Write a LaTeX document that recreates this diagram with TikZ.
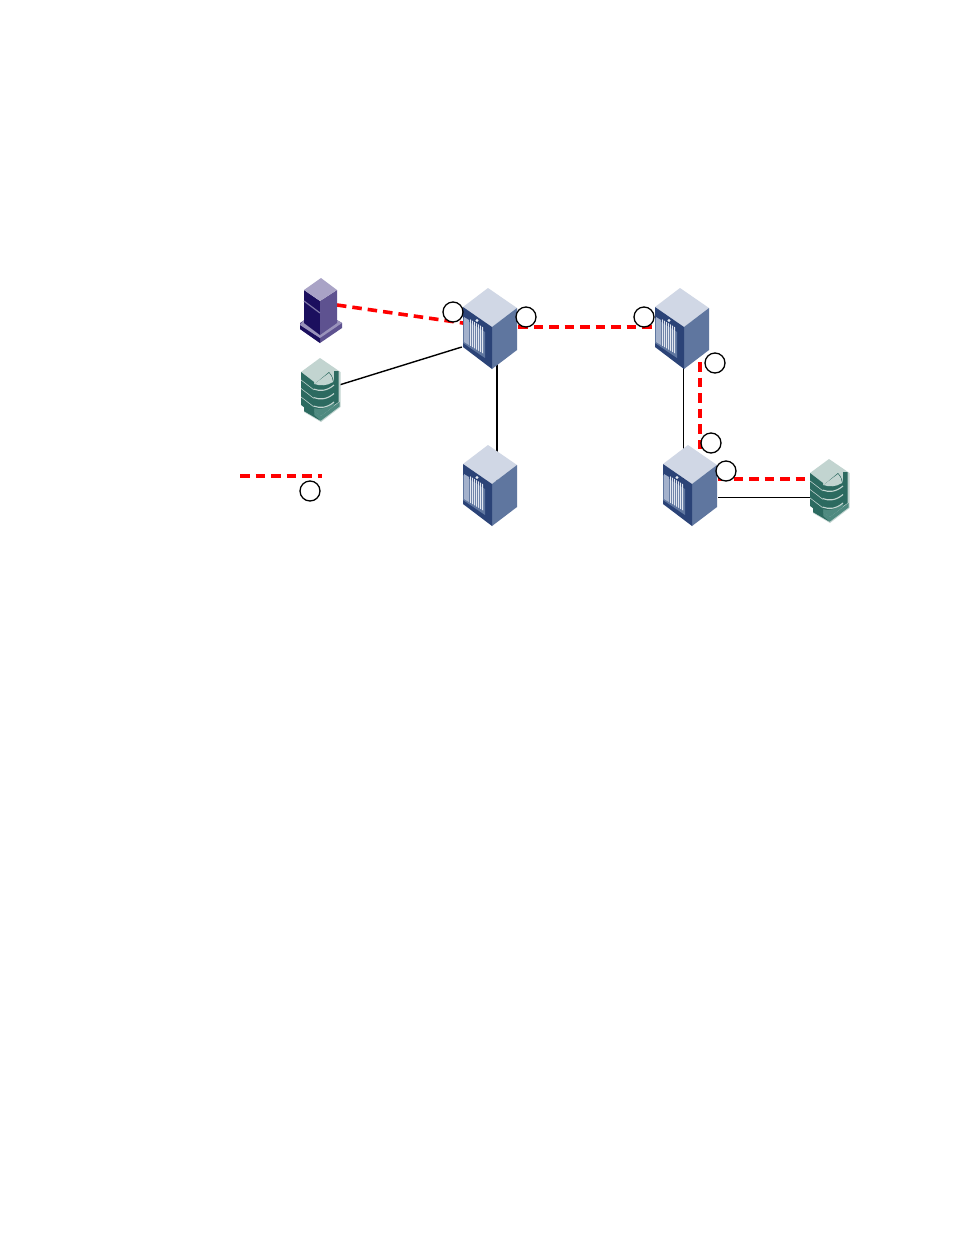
\documentclass[tikz,border=0pt]{standalone}
\definecolor{swtop}{HTML}{D0D7E5}
\definecolor{swright}{HTML}{5F769F}
\definecolor{swleft}{HTML}{2B4377}
\definecolor{swpanel}{HTML}{A3B1CC}
\definecolor{swbar}{HTML}{E3E8F1}
\definecolor{hosttop}{HTML}{A9A3C6}
\definecolor{hostleft}{HTML}{1B0F5E}
\definecolor{hostright}{HTML}{5E5290}
\definecolor{disktop}{HTML}{C2D4D0}
\definecolor{diskdark}{HTML}{2C6A60}
\definecolor{diskmid}{HTML}{4F8A80}
\tikzset{
  swbox/.style={minimum width=56pt,minimum height=80pt,inner sep=0pt},
  hostbox/.style={minimum width=42pt,minimum height=64pt,inner sep=0pt},
  diskbox/.style={minimum width=40pt,minimum height=64pt,inner sep=0pt},
  tagcircle/.style={draw,circle,fill=white,line width=1.3pt,minimum size=20pt,inner sep=0pt},
  redlink/.style={red,line width=3.6pt,dash pattern=on 9.5pt off 6pt},
  blacklink/.style={black,line width=1.4pt},
  switchicon/.pic={
    \fill[swtop] (-2,-41) -- (27,-21) -- (2,-2) -- (-27,-22) -- cycle;
    \fill[swright] (27,-21) -- (27,21) -- (2,40) -- (2,-2) -- cycle;
    \fill[swleft] (-27,-22) -- (2,-2) -- (2,40) -- (-27,18) -- cycle;
    \fill[swright] (-27,-11) -- (-5,3) -- (-5,29) -- (-27,14) -- cycle;
    \fill[swpanel] (-26,-12) -- (-21,-9) -- (-21,16) -- (-26,13) -- cycle;
    \fill[swleft] (-2,2) -- (1,4) -- (1,30) -- (-2,28) -- cycle;
    \foreach \barx in {-20,-18,-16,-14,-12,-10,-8}
      \fill[swbar] (\barx,{-11+(\barx+22)*0.62}) -- ++(1.2,0.7) -- ({\barx+1.2},{13+(\barx+27.2)*0.6}) -- (\barx,{13+(\barx+26)*0.6}) -- cycle;
    \fill[swbar] (-13,-8.5) circle (1.6);
  },
  hosticon/.pic={
    \fill[hostright] (-21,12) -- (-1,-1) -- (21,12) -- (21,17) -- (-1,32) -- (-21,18) -- cycle;
    \fill[hostleft] (-21,14) -- (-1,27) -- (-1,32) -- (-21,18) -- cycle;
    \fill[hosttop!80!hostright] (-21,14) -- (-17,9) -- (16,9) -- (21,12) -- (-1,27) -- cycle;
    \fill[hostleft] (-17,-21) -- (-1,-10) -- (-1,24) -- (-17,12) -- cycle;
    \fill[hostright] (16,-21) -- (16,12) -- (-1,24) -- (-1,-10) -- cycle;
    \fill[hosttop] (0,-33) -- (16,-21) -- (-1,-10) -- (-17,-21) -- cycle;
    \draw[hosttop!70!hostleft,line width=1.2pt] (-17,-10) -- (-1,2);
  },
  diskicon/.pic={
    \fill[disktop] (-20,-18) -- (-1,-32) -- (19.5,-18) -- (19.5,17) -- (0,32) -- (-17,22) -- (-17,13) -- (-20,11) -- cycle;
    \fill[diskmid] (-17,14) -- (0,26) -- (18.5,12) -- (18.5,16.5) -- (0,30.5) -- (-17,21) -- cycle;
    \fill[diskdark] (-17,14) -- (-7,20) -- (-7,25) -- (0,31) -- (-17,21) -- cycle;
    \fill[diskdark] (13,-19) -- (17.5,-19) -- (17.5,12) -- (13,15) -- cycle;
    \fill[diskmid] (-7.5,14) -- (13,10) -- (13,16) -- (0,26) -- (-7.5,21) -- cycle;
    \foreach \bandy in {-18,-9.5,-1,7.5}
      \fill[diskdark] (-20,\bandy) -- (-7,{\bandy+10}) -- (-7,{\bandy+17.4}) -- (-20,{\bandy+7.4}) -- cycle;
    \fill[diskdark] (-7.5,-5) -- (8,-18) .. controls (12,-14) and (13,-9) .. (13,-5) -- (13,12) .. controls (6,19) and (-2,20) .. (-7.5,18) -- cycle;
    \fill[disktop] (-6.5,-6) -- (8,-17) .. controls (10.5,-14) and (12,-11) .. (12,-8) .. controls (6,-4) and (-1,-4) .. (-6.5,-6) -- cycle;
    \foreach \bandy in {-1,7.5,16}
      \draw[disktop,line width=1.1pt] (-7.5,\bandy) .. controls (-1,{\bandy+2.5}) and (6,{\bandy+2}) .. (13,{\bandy-4});
  }
}
\begin{document}
\begin{tikzpicture}[x=1pt,y=-1pt]
\useasboundingbox[fill=white] (0,0) rectangle (954,1235);
\node (host) [hostbox] at (321,311) {};
\node (diska) [diskbox] at (321,390) {};
\node (swa) [swbox] at (490,329) {};
\node (swb) [swbox] at (682,329) {};
\node (swc) [swbox] at (490,486) {};
\node (swd) [swbox] at (690,486) {};
\node (diskb) [diskbox] at (830,491) {};
\coordinate (legstart) at (240,476);
\coordinate (legend) at (322,476);

\draw[blacklink] ([xshift=-2pt,yshift=5pt]diska.east) -- ([yshift=-18pt]swa.west);
\draw[blacklink] ([xshift=7pt]swa.center) -- ([xshift=7pt]swc.center);
\draw[blacklink,line width=1pt] ([xshift=1pt]swb.center) -- ([xshift=-7pt]swd.center);
\draw[blacklink,line width=1pt] ([yshift=-11.5pt]swd.east) -- ([yshift=-6.5pt]diskb.west);
\draw[redlink] ([xshift=16pt,yshift=6pt]host.center) -- ([xshift=-27pt,yshift=6pt]swa.center);
\draw[redlink] ([yshift=2pt]swa.east) -- ([yshift=2pt]swb.west);
\draw[redlink] ([xshift=18pt,yshift=-33pt]swb.center) -- ([xshift=10pt,yshift=36pt]swd.center);
\draw[redlink] ([yshift=7pt]swd.east) -- ([yshift=12pt]diskb.west);
\draw[redlink] (legstart) -- (legend);

\pic at (host) {hosticon};
\pic at (diska) {diskicon};
\pic at (swa) {switchicon};
\pic at (swb) {switchicon};
\pic at (swc) {switchicon};
\pic at (swd) {switchicon};
\pic at (diskb) {diskicon};

\node (taga) [tagcircle] at (453,312) {};
\node (tagb) [tagcircle] at (526,317) {};
\node (tagc) [tagcircle] at (644,317) {};
\node (tagd) [tagcircle] at (715,363) {};
\node (tage) [tagcircle] at (711,443) {};
\node (tagf) [tagcircle] at (726,471) {};
\node (tagg) [tagcircle] at (310,491) {};
\end{tikzpicture}
\end{document}
